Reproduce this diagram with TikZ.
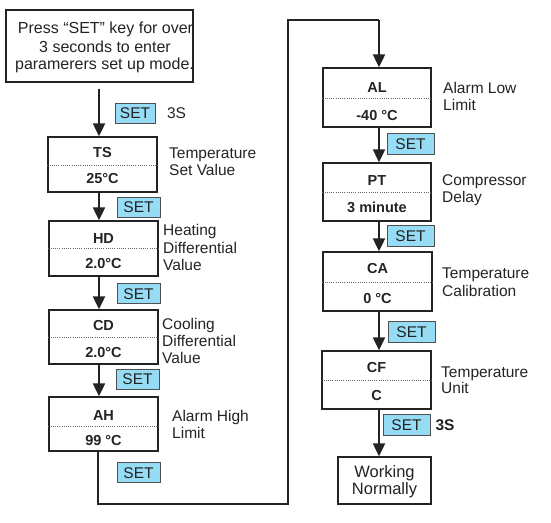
\documentclass[tikz,border=0pt]{standalone}
\usepackage{fontspec}
\setmainfont{Liberation Sans}
\usetikzlibrary{arrows.meta}
\definecolor{setblue}{RGB}{150,220,245}
\definecolor{ink}{RGB}{35,35,35}
\tikzset{
  pbox/.style={draw=ink, line width=1.3pt, inner sep=0pt},
  dotsep/.style={draw=ink!70, line width=0.6pt, dash pattern=on 1pt off 1.2pt},
  code/.style={inner sep=0pt, font=\fontsize{14.5}{16}\selectfont\bfseries, text=ink, text height=10.4pt, text depth=0pt},
  lbl/.style={inner sep=0pt, anchor=west, font=\fontsize{15.5}{17}\selectfont, text=ink, text height=11.1pt, text depth=0pt},
  setbox/.style={draw=ink!80, line width=1pt, fill=setblue, inner sep=0pt, font=\fontsize{15.5}{17}\selectfont, text=ink, text height=11.1pt, text depth=0pt},
  plain/.style={inner sep=0pt, font=\fontsize{16}{18}\selectfont, text=ink, text height=11.5pt, text depth=0pt},
  conn/.style={draw=ink, line width=2pt},
  arr/.style={conn, -{Triangle[length=13pt,width=12pt]}},
}
\newcommand\pboxdraw[8]{%
  \node[pbox, minimum width=#4pt-#2pt, minimum height=#5pt-#3pt] (#1) at ({(#2+#4)/2},{(#3+#5)/2}) {};
  \draw[dotsep] (#1.west |- 0,#6) -- (#1.east |- 0,#6);
  \node[code] (#1top) at ({(#2+#4)/2},#7) {#8};
}
\newcommand\pval[3]{\node[code] (#1val) at (#1.center |- 0,#2) {#3};}
\begin{document}
\begin{tikzpicture}[x=1pt,y=-1pt]
\useasboundingbox (0,0) rectangle (551,522);
% top box
\node[pbox, minimum width=187pt, minimum height=72pt] (start) at (99.5,46) {};
\node[plain] (s1) at (105.5,27.7) {Press “SET” key for over};
\node[plain] (s2) at (105,46.3) {3 seconds to enter};
\node[plain] (s3) at (104.5,63.3) {paramerers set up mode.};
% parameter boxes
\pboxdraw{ts}{48}{137}{157}{192}{165}{152}{TS}\pval{ts}{178}{25°C}
\pboxdraw{hd}{49}{221}{158}{276}{248}{238}{HD}\pval{hd}{263}{2.0°C}
\pboxdraw{cd}{49}{310}{158}{364}{337}{325}{CD}\pval{cd}{352}{2.0°C}
\pboxdraw{ah}{49}{397}{158}{451}{426}{415}{AH}\pval{ah}{440}{99 °C}
\pboxdraw{al}{323}{68}{431}{127}{98}{87}{AL}\pval{al}{115}{-40 °C}
\pboxdraw{pt}{323}{163}{431}{221}{192}{180}{PT}\pval{pt}{207}{3 minute}
\pboxdraw{ca}{323}{252}{432}{311}{282}{268}{CA}\pval{ca}{298}{0 °C}
\pboxdraw{cf}{322}{351}{431}{409}{380}{367}{CF}\pval{cf}{395}{C}
% working box
\node[pbox, minimum width=93pt, minimum height=47pt] (work) at (384.5,480.5) {};
\node[plain, font=\fontsize{16.5}{18}\selectfont] (w1) at (384.5,472) {Working};
\node[plain, font=\fontsize{16.5}{18}\selectfont] (w2) at (384.5,489) {Normally};
% labels
\node[lbl] (tsl1) at (169,153) {Temperature};
\node[lbl] (tsl2) at (169,170) {Set Value};
\node[lbl] (hdl1) at (163,230) {Heating};
\node[lbl] (hdl2) at (163,248) {Differential};
\node[lbl] (hdl3) at (163,265) {Value};
\node[lbl] (cdl1) at (162,324) {Cooling};
\node[lbl] (cdl2) at (162,341) {Differential};
\node[lbl] (cdl3) at (162,358) {Value};
\node[lbl] (ahl1) at (172,416) {Alarm High};
\node[lbl] (ahl2) at (172,433) {Limit};
\node[lbl] (all1) at (443,88) {Alarm Low};
\node[lbl] (all2) at (443,105) {Limit};
\node[lbl] (ptl1) at (442,180) {Compressor};
\node[lbl] (ptl2) at (442,197) {Delay};
\node[lbl] (cal1) at (442,273) {Temperature};
\node[lbl] (cal2) at (442,291) {Calibration};
\node[lbl] (cfl1) at (441,372) {Temperature};
\node[lbl] (cfl2) at (441,388) {Unit};
% SET keys
\node[setbox, minimum width=40pt, minimum height=20pt] (k1) at (135,113) {SET};
\node[lbl, anchor=center] (k1s) at (176.5,113) {3S};
\node[setbox, minimum width=43pt, minimum height=20pt] (k2) at (138.5,207) {SET};
\node[setbox, minimum width=43pt, minimum height=20pt] (k3) at (138.5,293.5) {SET};
\node[setbox, minimum width=43pt, minimum height=20pt] (k4) at (137.5,379) {SET};
\node[setbox, minimum width=43pt, minimum height=20pt] (k5) at (138.5,472.5) {SET};
\node[setbox, minimum width=47pt, minimum height=21pt] (k6) at (410.5,143.5) {SET};
\node[setbox, minimum width=47pt, minimum height=21pt] (k7) at (410.5,236) {SET};
\node[setbox, minimum width=47pt, minimum height=21pt] (k8) at (411.5,331.5) {SET};
\node[setbox, minimum width=47pt, minimum height=21pt] (k9) at (406.5,424.5) {SET};
\node[lbl, anchor=center, font=\fontsize{15.5}{17}\selectfont\bfseries] (k9s) at (445,424.5) {3S};
% connectors
\coordinate (lc) at (99,0);
\coordinate (rc) at (379,0);
\coordinate (b1) at (97.5,504);
\coordinate (b2) at (288,504);
\coordinate (b3) at (288,20);
\coordinate (b4) at (379,20);
\draw[arr, shorten <=6pt] (start.south -| lc) -- (ts.north -| lc);
\draw[arr] (ts.south -| lc) -- (hd.north -| lc);
\draw[arr] (hd.south -| lc) -- (cd.north -| lc);
\draw[arr] (cd.south -| lc) -- (ah.north -| lc);
\draw[conn, line join=miter] (ah.south -| b1) -- (b1) -- (b2) -- (b3) -- (b4);
\draw[arr] (b4) -- (al.north -| rc);
\draw[arr] (al.south -| rc) -- (pt.north -| rc);
\draw[arr] (pt.south -| rc) -- (ca.north -| rc);
\draw[arr] (ca.south -| rc) -- (cf.north -| rc);
\draw[arr] (cf.south -| rc) -- (work.north -| rc);
\end{tikzpicture}
\end{document}
